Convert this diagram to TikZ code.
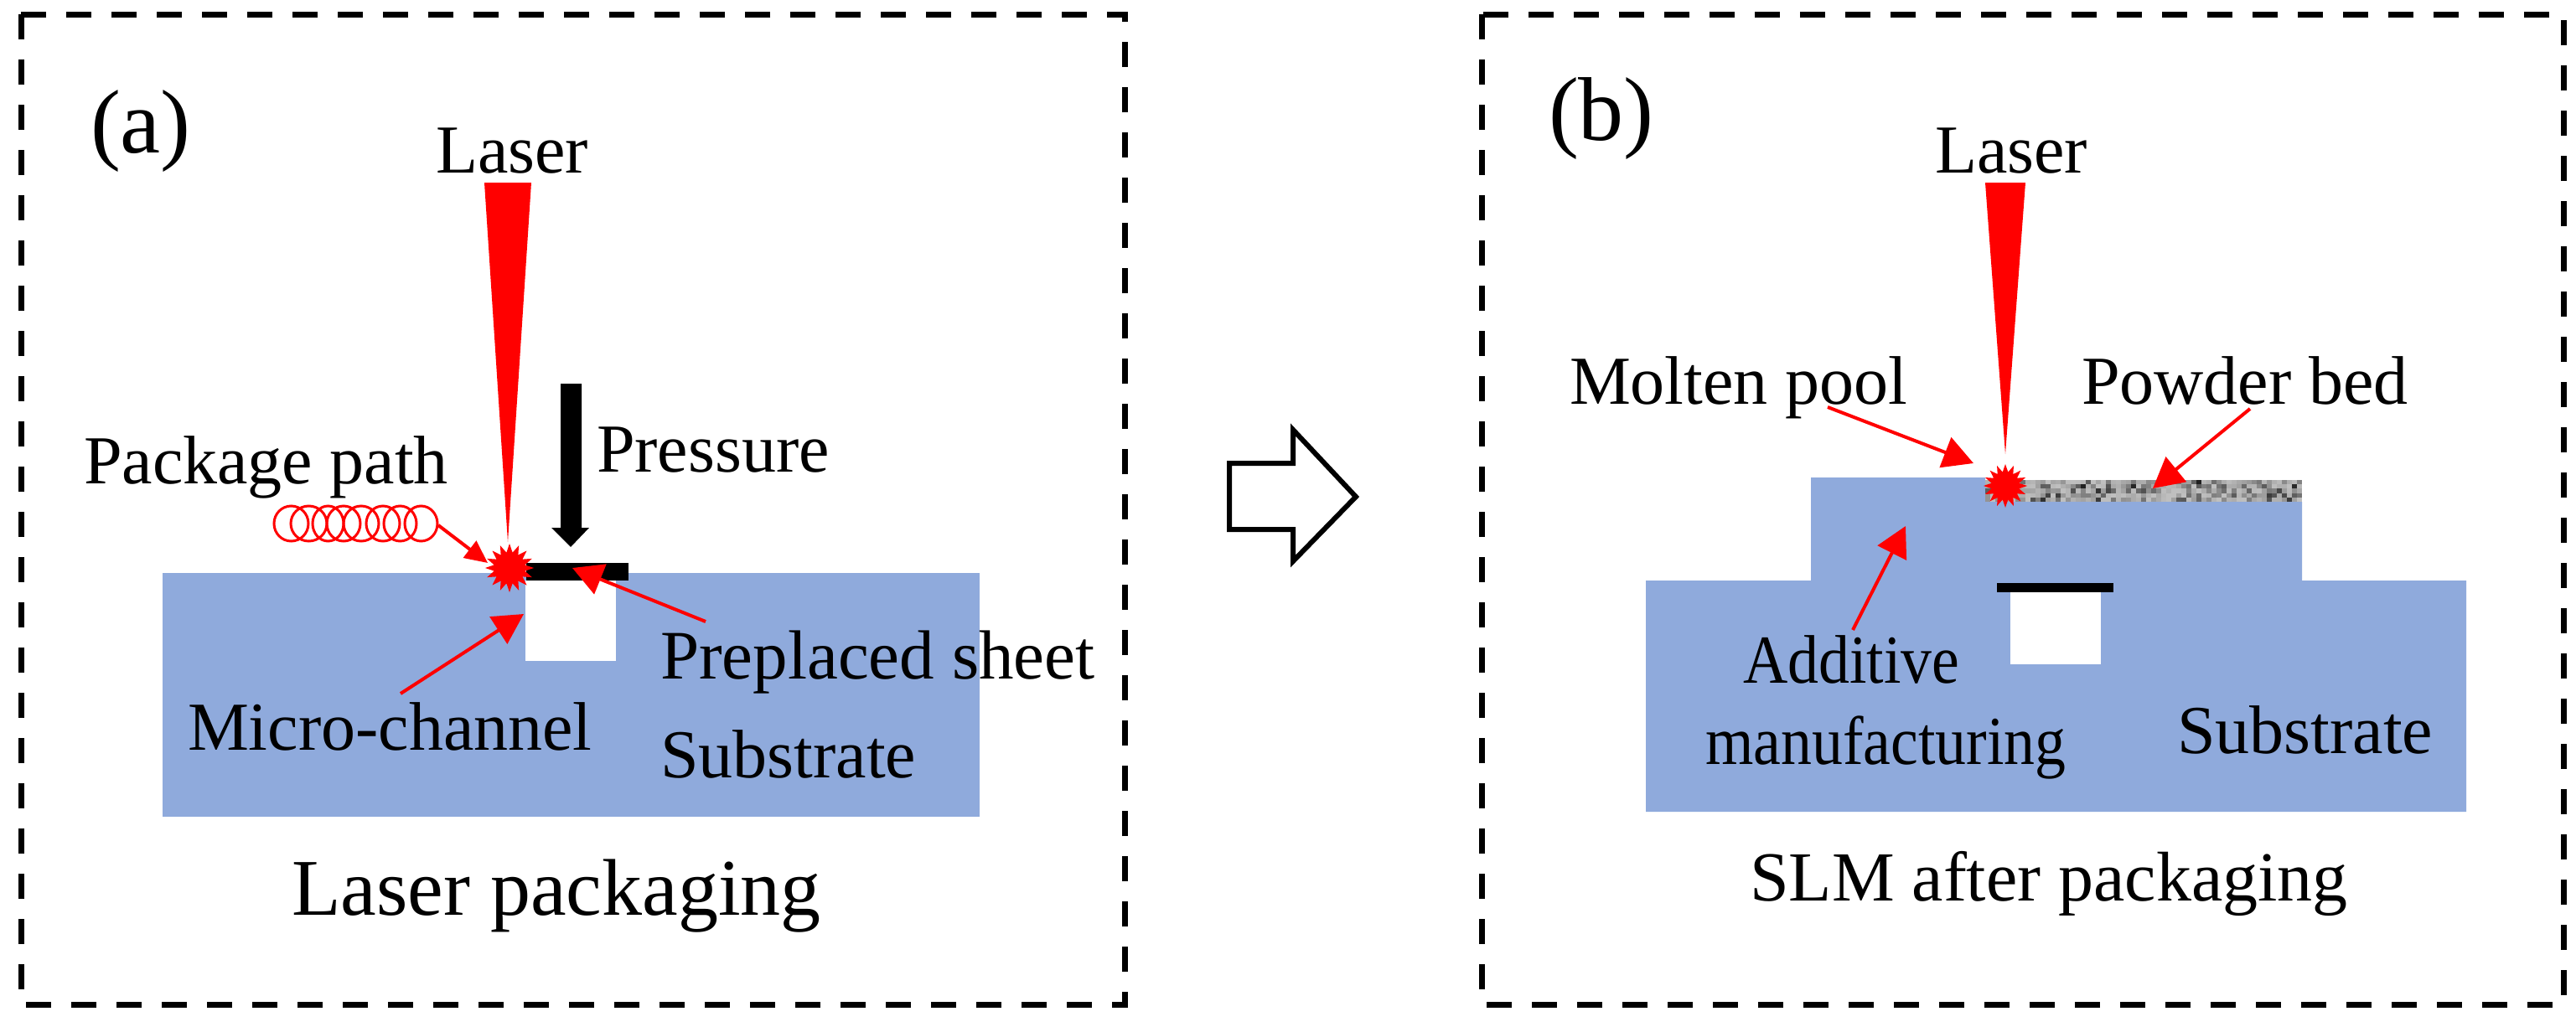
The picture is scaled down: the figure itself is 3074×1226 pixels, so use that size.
\documentclass[tikz,border=0pt]{standalone}
\usepackage{fontspec}
\setmainfont{Liberation Serif}
\usetikzlibrary{arrows.meta,shapes.geometric}
\definecolor{subblue}{HTML}{8FAADC}
\definecolor{lasered}{HTML}{FF0000}
\tikzset{
  framebox/.style={draw=black,line width=7pt,dash pattern=on 30pt off 24pt},
  lbl/.style={anchor=base west,inner sep=0pt,outer sep=0pt,text=black,font=\fontsize{82}{90}\selectfont},
  lblbig/.style={lbl,font=\fontsize{96}{110}\selectfont},
  lblpanel/.style={lbl,font=\fontsize{108}{120}\selectfont},
  lblcap/.style={lbl,font=\fontsize{84}{100}\selectfont},
  lblsheet/.style={lbl,font=\fontsize{83}{100}\selectfont},
  lblnarrow/.style={lbl,xscale=0.9,transform shape},
  redline/.style={draw=lasered,line width=4pt},
  callout/.style={redline,-{Triangle[length=#1,width=38pt,fill=lasered]}},
  callout/.default=36pt,
  burst/.style={star,star points=16,star point ratio=1.55,minimum size=#1,inner sep=0pt,fill=lasered,draw=none},
  coil/.style={draw=lasered,line width=3pt},
  beam/.style={fill=lasered,draw=none},
  body/.style={fill=subblue,draw=none},
  sheet/.style={fill=black,draw=none},
}
\begin{document}
\begin{tikzpicture}[x=1pt,y=-1pt]
\useasboundingbox (0,0) rectangle (3074,1226);
\fill[white] (0,0) rectangle (3074,1226);

% frames
\draw[framebox] (25,17) rectangle (1342,1199);
\draw[framebox] (1768,17) rectangle (3059,1199);

% ---------- panel (a)
\fill[body] (194,684) rectangle (1169,975);
\fill[white] (627,693) rectangle (735,789);
\fill[sheet] (628,672) rectangle (750,693);
\fill[beam] (578,218) -- (634,218) -- (606,647) -- cycle;
\node[burst=58pt] (burstA) at (608,678) {};

\fill[black] (669,458) -- (694,458) -- (694,630) -- (703,630) -- (681,653) -- (658,630) -- (669,630) -- cycle;

\foreach \xa/\xb in {327/368,347/390,373/410,390/430,410/452,437/477,458/497,483/522}{
  \draw[coil] ({(\xa+\xb)/2},625) ellipse [x radius={(\xb-\xa)/2},y radius=21];
}

\node[lblpanel] (labA) at (108,182) {(a)};
\node[lbl] (laserA) at (520,206) {Laser};
\node[lbl] (pressure) at (712,563) {Pressure};
\node[lbl] (pkg) at (100,577) {Package path};
\node[lbl] (micro) at (224,895) {Micro-channel};
\node[lblsheet] (prep) at (788,810) {Preplaced sheet};
\node[lbl] (subA) at (788,928) {Substrate};
\node[lblbig] (capA) at (348,1092) {Laser packaging};

\coordinate (pkgS) at (523,627);
\coordinate (pkgT) at (582,672);
\coordinate (micS) at (478,828);
\coordinate (micT) at (625,733);
\coordinate (preS) at (842,742);
\coordinate (preT) at (683,678);
\draw[redline,-{Triangle[length=27pt,width=25pt,fill=lasered]}] (pkgS) -- (pkgT);
\draw[callout] (micS) -- (micT);
\draw[callout] (preS) -- (preT);

% block arrow
\draw[black,line width=6pt,miter limit=10,fill=white] (1467,553) -- (1543,553) -- (1543,513) -- (1618,593) -- (1543,670) -- (1543,632) -- (1467,632) -- cycle;

% ---------- panel (b)
\fill[body] (1964,693) -- (2161,693) -- (2161,570) -- (2369,570) -- (2369,599) -- (2747,599) -- (2747,693) -- (2943,693) -- (2943,969) -- (1964,969) -- cycle;
\pgfmathsetseed{42}
\foreach \r in {0,...,4}{
  \foreach \c in {0,...,62}{
    \pgfmathsetmacro{\g}{int(25+rnd*rnd*65)}
    \fill[black!\g!white] ({2369+6*\c},{573+5.2*\r}) rectangle ({2375+6*\c},{578.2+5.2*\r});
  }
}
\fill[white] (2399,707) rectangle (2507,793);
\fill[sheet] (2383,696) rectangle (2522,707);
\fill[beam] (2369,218) -- (2417,218) -- (2393,542) -- cycle;
\node[burst=52pt] (burstB) at (2393,580) {};

\node[lblpanel] (labB) at (1848,167) {(b)};
\node[lbl] (laserB) at (2309,206) {Laser};
\node[lbl] (molten) at (1873,482) {Molten pool};
\node[lbl] (powder) at (2484,482) {Powder bed};
\node[lblnarrow] (addi) at (2080,815) {Additive};
\node[lblnarrow] (manu) at (2035,912) {manufacturing};
\node[lbl] (subB) at (2598,899) {Substrate};
\node[lblcap] (capB) at (2088,1075) {SLM after packaging};

\coordinate (molS) at (2181,486);
\coordinate (molT) at (2355,553);
\coordinate (powS) at (2685,488);
\coordinate (powT) at (2569,583);
\coordinate (addS) at (2211,752);
\coordinate (addT) at (2274,628);
\draw[callout] (molS) -- (molT);
\draw[callout] (powS) -- (powT);
\draw[callout] (addS) -- (addT);
\end{tikzpicture}
\end{document}
